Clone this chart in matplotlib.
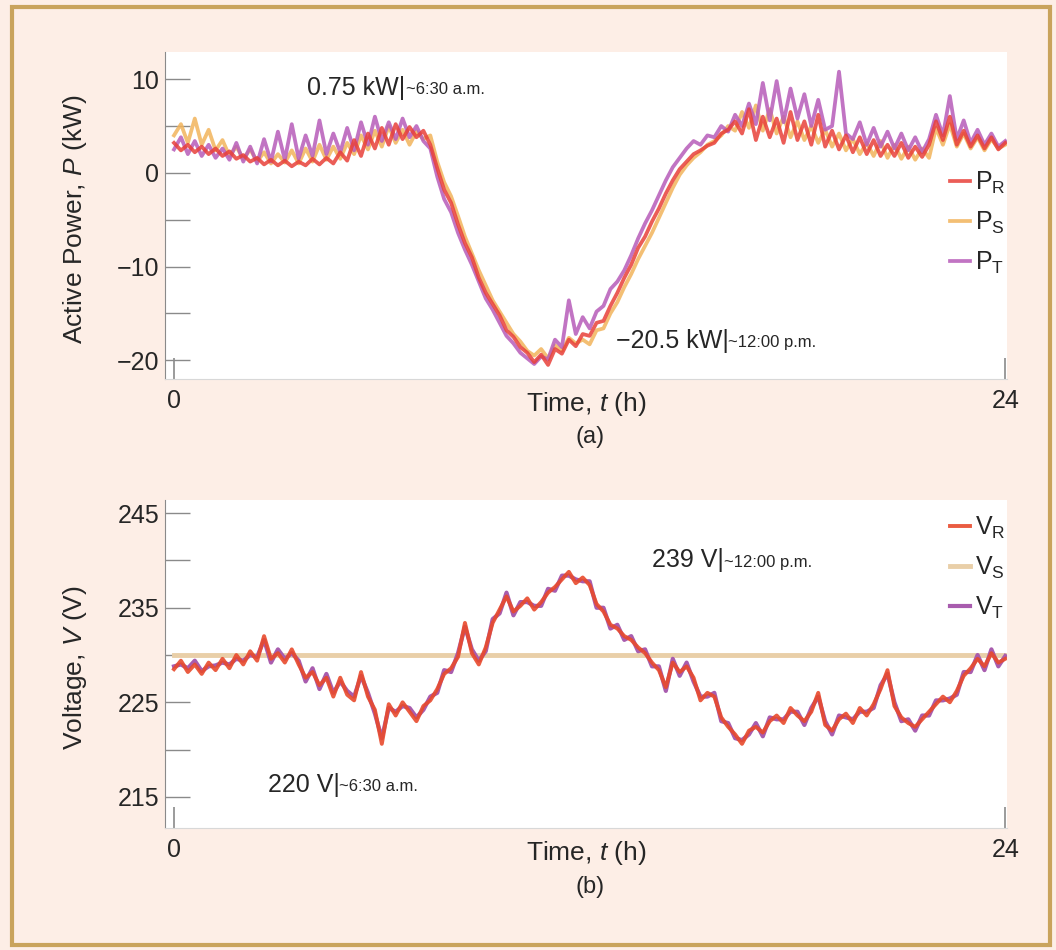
import numpy as np
import matplotlib.pyplot as plt
from matplotlib.patches import Rectangle
from matplotlib.ticker import MultipleLocator, FixedLocator

plt.rcParams['font.family'] = ['Liberation Sans', 'DejaVu Sans']
plt.rcParams['mathtext.fontset'] = 'custom'
plt.rcParams['mathtext.rm'] = 'Liberation Sans'
plt.rcParams['mathtext.it'] = 'Liberation Sans:italic'
plt.rcParams['mathtext.bf'] = 'Liberation Sans:bold'

# sampled every 12 minutes, 0 h .. 24 h
hours = np.linspace(0, 24, 121)

p_r = [3.2, 2.4, 3.0, 2.2, 2.8, 2.0, 2.6, 1.8, 2.3, 1.5,
       1.9, 1.2, 1.6, 0.9, 1.4, 0.8, 1.3, 0.7, 1.2, 0.8,
       1.5, 0.9, 1.6, 1.0, 2.2, 1.3, 3.5, 1.8, 4.2, 2.6,
       4.8, 3.0, 5.2, 3.6, 4.9, 3.8, 4.5, 3.0, 0.5, -1.8,
       -3.2, -5.5, -7.5, -9.0, -11.2, -12.8, -14.0, -15.2, -16.8, -17.5,
       -18.6, -19.2, -20.2, -19.4, -20.5, -18.8, -19.3, -17.8, -18.5, -17.2,
       -17.4, -16.0, -15.8, -14.2, -12.8, -11.2, -9.8, -8.0, -6.8, -5.2,
       -3.8, -2.2, -0.8, 0.4, 1.2, 2.0, 2.4, 2.9, 3.2, 4.2,
       4.6, 5.5, 4.2, 6.8, 3.5, 6.0, 3.8, 5.8, 3.2, 6.5,
       3.5, 5.5, 3.0, 6.2, 2.8, 4.5, 2.5, 4.0, 2.2, 3.8,
       2.0, 3.5, 1.8, 3.0, 1.8, 3.2, 1.6, 2.8, 1.7, 3.0,
       5.5, 3.5, 6.0, 3.0, 4.5, 2.8, 4.0, 2.6, 3.8, 2.5,
       3.2]

p_s = [4.0, 5.2, 3.2, 5.8, 3.0, 4.6, 2.4, 3.5, 1.8, 2.8,
       1.5, 2.5, 1.2, 2.2, 1.0, 2.0, 1.1, 2.4, 1.0, 2.6,
       1.2, 3.0, 1.4, 2.8, 1.5, 3.2, 2.0, 4.0, 2.5, 4.5,
       2.8, 5.0, 3.2, 4.6, 3.0, 4.4, 3.6, 4.0, 1.2, -1.0,
       -2.5, -4.6, -6.8, -8.6, -10.4, -12.0, -13.6, -14.8, -16.0, -17.2,
       -18.0, -19.0, -19.5, -18.8, -19.8, -18.4, -19.0, -17.6, -18.2, -17.8,
       -18.3, -16.8, -16.6, -15.0, -13.8, -12.2, -10.8, -9.2, -7.8, -6.4,
       -4.8, -3.2, -1.6, -0.2, 0.8, 1.6, 2.2, 3.0, 3.4, 4.0,
       5.0, 4.5, 6.5, 4.8, 7.2, 4.5, 6.8, 4.2, 6.0, 3.8,
       5.5, 3.5, 5.0, 3.2, 4.6, 2.8, 4.2, 2.4, 3.6, 2.0,
       3.2, 1.8, 3.4, 1.6, 3.0, 1.5, 2.8, 1.4, 2.6, 1.6,
       4.8, 3.0, 5.2, 2.8, 4.2, 2.6, 3.8, 2.4, 3.6, 2.6,
       3.0]

p_t = [2.5, 3.8, 2.0, 3.4, 1.8, 3.0, 1.6, 2.6, 1.4, 3.2,
       1.2, 2.8, 1.0, 3.6, 1.2, 4.4, 1.4, 5.2, 1.5, 4.0,
       1.8, 5.6, 2.0, 4.2, 2.2, 4.8, 2.4, 5.4, 3.0, 6.0,
       3.4, 5.4, 3.6, 5.8, 3.8, 5.0, 3.4, 2.6, -0.4, -2.8,
       -4.2, -6.4, -8.2, -9.8, -11.6, -13.4, -14.6, -16.0, -17.4, -18.2,
       -19.2, -19.8, -20.4, -19.6, -19.9, -17.8, -18.6, -13.6, -17.2, -15.4,
       -16.6, -14.8, -14.2, -12.4, -11.6, -10.4, -8.8, -7.0, -5.4, -4.0,
       -2.4, -0.8, 0.6, 1.6, 2.6, 3.4, 3.0, 4.0, 3.8, 5.0,
       4.4, 6.2, 5.0, 7.4, 5.2, 9.6, 5.6, 9.8, 5.4, 9.0,
       5.8, 8.4, 5.0, 7.8, 4.6, 5.0, 10.8, 4.2, 3.6, 5.4,
       3.0, 4.8, 2.8, 4.4, 2.6, 4.2, 2.4, 3.8, 2.2, 3.6,
       6.2, 4.0, 8.2, 3.6, 5.6, 3.2, 4.6, 3.0, 4.2, 2.8,
       3.4]

v_r = [228.5, 229.4, 228.2, 229.0, 228.0, 229.2, 228.4, 229.6, 228.6, 230.0,
       229.0, 230.4, 229.4, 232.0, 229.6, 230.2, 229.2, 230.6, 229.0, 227.6,
       228.2, 226.8, 227.6, 225.6, 227.6, 225.8, 225.2, 228.2, 225.6, 224.2,
       220.6, 224.8, 223.6, 225.0, 224.0, 223.0, 224.6, 225.2, 226.4, 228.0,
       228.6, 229.8, 233.4, 230.2, 229.0, 230.8, 233.4, 234.8, 236.2, 234.6,
       235.2, 236.0, 234.8, 235.6, 236.6, 237.2, 238.0, 238.8, 237.6, 238.2,
       237.4, 235.4, 234.6, 233.2, 232.8, 232.0, 231.6, 230.8, 230.2, 229.2,
       228.4, 226.6, 229.2, 228.2, 228.8, 227.6, 225.2, 226.0, 225.6, 223.4,
       222.4, 221.6, 220.6, 222.0, 222.4, 221.8, 223.0, 223.6, 222.8, 224.4,
       223.6, 223.0, 224.0, 226.0, 222.6, 222.0, 223.2, 223.8, 222.8, 224.4,
       223.6, 224.8, 226.4, 228.4, 224.6, 223.4, 222.8, 222.4, 223.2, 224.0,
       224.8, 225.6, 225.0, 226.2, 227.8, 228.6, 229.6, 228.8, 230.2, 229.2,
       229.6]

v_s = [230.0] * 121

v_t = [228.8, 229.0, 228.6, 229.4, 228.3, 228.8, 228.9, 229.2, 229.0, 229.6,
       229.4, 230.0, 229.8, 231.6, 229.2, 230.6, 229.6, 230.2, 229.4, 227.2,
       228.6, 226.4, 228.0, 226.0, 227.2, 226.2, 225.6, 227.8, 226.0, 223.8,
       221.2, 224.4, 224.0, 224.6, 224.4, 223.4, 224.2, 225.6, 226.0, 228.4,
       228.2, 230.2, 233.0, 230.6, 229.4, 230.4, 233.8, 234.4, 236.6, 234.2,
       235.6, 235.6, 235.2, 235.2, 237.0, 236.8, 238.4, 238.4, 238.0, 237.8,
       237.8, 235.0, 235.0, 232.8, 233.2, 231.6, 232.0, 230.4, 230.6, 228.8,
       228.8, 226.2, 229.6, 227.8, 229.2, 227.2, 225.6, 225.6, 226.0, 223.0,
       222.8, 221.2, 221.0, 221.6, 222.8, 221.4, 223.4, 223.2, 223.2, 224.0,
       224.0, 222.6, 224.4, 225.6, 223.0, 221.6, 223.6, 223.4, 223.2, 224.0,
       224.0, 224.4, 226.8, 228.0, 225.0, 223.0, 223.2, 222.0, 223.6, 223.6,
       225.2, 225.2, 225.4, 225.8, 228.2, 228.2, 230.0, 228.4, 230.6, 228.8,
       229.9]

txt = '#262626'
tick_col = '#8a8a8a'

fig = plt.figure(figsize=(10.56, 9.5), dpi=100, facecolor='#fdeee6')
fig.patches.append(Rectangle((12 / 1056, 5 / 950), 1038 / 1056, 938 / 950,
                             transform=fig.transFigure, fill=False,
                             edgecolor='#c9a35c', lw=3))

ax1 = fig.add_axes([165 / 1056, 1 - 379 / 950, 842 / 1056, 327 / 950])
ax2 = fig.add_axes([165 / 1056, 1 - 828 / 950, 842 / 1056, 328 / 950])

ax1.plot(hours, p_s, color='#f2b45c', lw=2.7, alpha=0.85, label=r'P$_\mathrm{S}$')
ax1.plot(hours, p_t, color='#b75cb9', lw=2.7, alpha=0.85, label=r'P$_\mathrm{T}$')
ax1.plot(hours, p_r, color='#e8403a', lw=2.7, alpha=0.85, label=r'P$_\mathrm{R}$')

ax2.plot(hours, v_s, color='#e9cfa8', lw=3.5, label=r'V$_\mathrm{S}$')
ax2.plot(hours, v_t, color='#a85cae', lw=3, label=r'V$_\mathrm{T}$')
ax2.plot(hours, v_r, color='#e84a2c', lw=2.8, alpha=0.9, label=r'V$_\mathrm{R}$')

for ax in (ax1, ax2):
    ax.set_facecolor('white')
    ax.set_xlim(-0.26, 24.05)
    ax.xaxis.set_major_locator(FixedLocator([0, 24]))
    for s in ('top', 'right'):
        ax.spines[s].set_visible(False)
    ax.spines['left'].set_color(tick_col)
    ax.spines['bottom'].set_color('#d8d8d8')
    ax.tick_params(axis='x', direction='in', length=15, width=1.2, color=tick_col,
                   labelsize=18, labelcolor=txt, pad=7)
    ax.tick_params(axis='y', which='both', direction='in', length=18, width=1,
                   color=tick_col, labelsize=18, labelcolor=txt, pad=4)
    ax.set_xlabel(r'Time, $t$ (h)', fontsize=19, color=txt)
    ax.xaxis.set_label_coords(0.5, -0.035)

ax1.set_ylim(-22, 12.9)
ax1.yaxis.set_major_locator(MultipleLocator(10))
ax1.yaxis.set_minor_locator(MultipleLocator(5))
ax1.set_ylabel(r'Active Power, $P$ (kW)', fontsize=19, color=txt)
ax1.yaxis.set_label_coords(-0.09, 0.49)

ax2.set_ylim(211.7, 246.4)
ax2.yaxis.set_major_locator(FixedLocator([215, 225, 235, 245]))
ax2.yaxis.set_minor_locator(MultipleLocator(5))
ax2.set_ylabel(r'Voltage, $V$ (V)', fontsize=19, color=txt)
ax2.yaxis.set_label_coords(-0.09, 0.49)

# legends in R, S, T order
h1, l1 = ax1.get_legend_handles_labels()
order = [2, 0, 1]
ax1.legend([h1[i] for i in order], [l1[i] for i in order], loc='upper right',
           bbox_to_anchor=(0.998, 0.64), frameon=False, fontsize=18,
           handlelength=0.8, handletextpad=0.2, labelspacing=0.55,
           borderaxespad=0, borderpad=0, labelcolor=txt)
h2, l2 = ax2.get_legend_handles_labels()
ax2.legend([h2[i] for i in order], [l2[i] for i in order], loc='upper right',
           bbox_to_anchor=(0.998, 0.955), frameon=False, fontsize=18,
           handlelength=0.8, handletextpad=0.2, labelspacing=0.55,
           borderaxespad=0, borderpad=0, labelcolor=txt)


def note(ax, x, y, main, sub):
    t = ax.text(x, y, main, fontsize=18, color=txt, va='center', ha='left')
    ax.annotate(sub, xy=(1, 0.12), xycoords=t, fontsize=12, color=txt,
                va='bottom', ha='left')


note(ax1, 3.85, 9.1, '0.75 kW|', '~6:30 a.m.')
note(ax1, 12.75, -17.9, '\u221220.5 kW|', '~12:00 p.m.')
note(ax2, 13.8, 240.0, '239 V|', '~12:00 p.m.')
note(ax2, 2.7, 216.3, '220 V|', '~6:30 a.m.')

fig.text(590 / 1056, 1 - 437 / 950, '(a)', fontsize=17, color=txt, ha='center', va='center')
fig.text(590 / 1056, 1 - 887 / 950, '(b)', fontsize=17, color=txt, ha='center', va='center')

fig.savefig('out.png', dpi=100, facecolor=fig.get_facecolor())
